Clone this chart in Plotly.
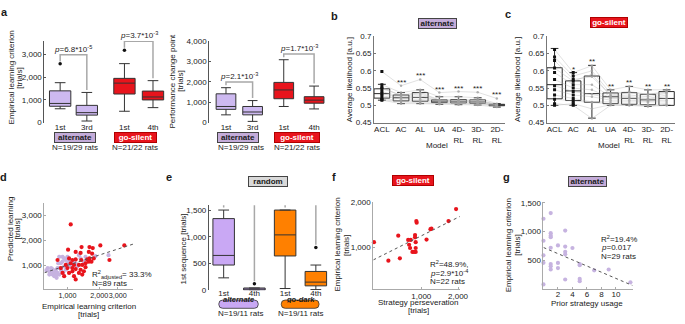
import numpy as np
import plotly.graph_objects as go

W, H = 685, 324
FONT = "Liberation Sans, Arial, Helvetica, sans-serif"
TXT = "#1a1a1a"
PURPLE_BOX = "#cdb9f0"
PURPLE_BOX_E = "#c9a8f4"
RED = "#e8141c"
ORANGE = "#ff8000"
PURPLE_DOT = "#c6b3e0"
BADGE_PURPLE = "#c4acd9"
GREY_BADGE = "#d9d9d9"

# ======================= DATA =======================
# panel a (left) - empirical learning criterion [trials]
a1_ticks = ["1st", "3rd", "1st", "4th"]
a1_q1 = [720, 330, 1260, 1000]
a1_med = [845, 440, 1740, 1130]
a1_q3 = [1400, 760, 1950, 1390]
a1_lo = [610, 70, 500, 660]
a1_hi = [1760, 1330, 2600, 1850]
a1_out = [[2590], [], [3190], []]
a1_p = ["6.8*10<sup>-5</sup>", "3.7*10<sup>-3</sup>"]

# panel a (right) - performance change point [trials]
a2_ticks = ["1st", "3rd", "1st", "4th"]
a2_q1 = [650, 380, 1170, 950]
a2_med = [790, 520, 1600, 1100]
a2_q3 = [1410, 790, 1970, 1270]
a2_lo = [380, 60, 790, 670]
a2_hi = [1710, 1080, 3080, 1790]
a2_out = [[], [], [], []]
a2_p = ["2.1*10<sup>-3</sup>", "1.7*10<sup>-3</sup>"]

# panels b / c - average likelihood per model
models = ["ACL", "AC", "AL", "UA", "4D-<br>RL", "3D-<br>RL", "2D-<br>RL"]
b_q1 = [0.521, 0.513, 0.512, 0.508, 0.507, 0.506, 0.499]
b_med = [0.534, 0.522, 0.523, 0.512, 0.512, 0.510, 0.501]
b_q3 = [0.548, 0.530, 0.537, 0.516, 0.517, 0.516, 0.503]
b_lo = [0.515, 0.505, 0.505, 0.503, 0.502, 0.501, 0.495]
b_hi = [0.561, 0.537, 0.545, 0.525, 0.525, 0.522, 0.505]
b_stars = ["", "***", "***", "***", "***", "***", "***"]
b_rats = [
    [0.598, 0.557, 0.575, 0.537, 0.540, 0.538, 0.520],
    [0.560, 0.537, 0.545, 0.525, 0.525, 0.522, 0.505],
    [0.552, 0.528, 0.533, 0.515, 0.514, 0.514, 0.502],
    [0.548, 0.530, 0.537, 0.516, 0.517, 0.516, 0.503],
    [0.540, 0.525, 0.528, 0.513, 0.513, 0.512, 0.502],
    [0.534, 0.522, 0.523, 0.512, 0.512, 0.510, 0.501],
    [0.528, 0.518, 0.518, 0.510, 0.510, 0.508, 0.500],
    [0.521, 0.513, 0.512, 0.508, 0.507, 0.506, 0.499],
    [0.517, 0.510, 0.508, 0.505, 0.505, 0.504, 0.498],
    [0.515, 0.505, 0.505, 0.503, 0.502, 0.501, 0.495],
]

c_q1 = [0.519, 0.514, 0.509, 0.505, 0.503, 0.502, 0.500]
c_med = [0.560, 0.542, 0.534, 0.525, 0.520, 0.516, 0.520]
c_q3 = [0.609, 0.571, 0.585, 0.536, 0.537, 0.532, 0.540]
c_lo = [0.500, 0.500, 0.463, 0.500, 0.500, 0.497, 0.500]
c_hi = [0.665, 0.595, 0.616, 0.545, 0.555, 0.545, 0.545]
c_stars = ["", "*", "**", "**", "**", "**", "**"]
c_rats = [
    [0.662, 0.595, 0.615, 0.545, 0.555, 0.545, 0.545],
    [0.640, 0.585, 0.600, 0.535, 0.540, 0.532, 0.540],
    [0.630, 0.575, 0.583, 0.530, 0.537, 0.530, 0.538],
    [0.608, 0.570, 0.590, 0.528, 0.530, 0.525, 0.535],
    [0.595, 0.560, 0.560, 0.525, 0.525, 0.520, 0.530],
    [0.575, 0.550, 0.545, 0.522, 0.522, 0.518, 0.525],
    [0.557, 0.540, 0.532, 0.520, 0.520, 0.516, 0.520],
    [0.545, 0.530, 0.525, 0.515, 0.515, 0.512, 0.515],
    [0.530, 0.520, 0.510, 0.510, 0.510, 0.508, 0.510],
    [0.518, 0.512, 0.508, 0.505, 0.503, 0.502, 0.505],
    [0.505, 0.500, 0.462, 0.500, 0.500, 0.497, 0.500],
    [0.500, 0.505, 0.490, 0.502, 0.500, 0.500, 0.500],
]

# panel d - predicted vs empirical learning [trials]
d_alt_x = [627, 650, 674, 700, 724, 751, 767, 778, 806, 836, 848, 866, 898, 931, 965,
           1000, 836, 898, 1036, 1074, 1114, 1154, 1240, 1332, 1431, 751, 778, 735, 806,
           931, 965, 1022, 674, 718, 872, 910, 2450, 1840, 1285, 1483, 818, 1000, 700,
           790, 1197]
d_alt_y = [792, 883, 754, 689, 624, 559, 754, 818, 689, 624, 883, 1078, 1143, 1272, 1208,
           1078, 1337, 1337, 1143, 948, 1078, 1143, 948, 1272, 1143, 663, 585, 715, 883,
           948, 818, 948, 624, 844, 792, 715, 1402, 1363, 1402, 1337, 1078, 1337, 883,
           494, 1078]
d_gs_x = [1074, 1014, 1361, 1617, 1737, 2050, 3460, 1197, 1332, 1594, 1712, 1617, 1775,
          1538, 806, 1036, 1114, 1197, 1351, 1571, 2500, 965, 1074, 1154, 1285, 1381,
          1483, 1594, 1689, 866, 1000, 1114, 1197, 1332, 1483, 898, 1036, 1114, 1285,
          1431, 931, 1154, 1197, 1381]
d_gs_y = [2634, 1623, 1726, 1726, 1687, 1791, 1791, 1532, 1493, 1532, 1467, 1272, 1272,
          1233, 1208, 1272, 1208, 1233, 1208, 1208, 1208, 1013, 1078, 1013, 1013, 1013,
          1078, 1143, 1143, 883, 883, 883, 844, 818, 922, 689, 689, 754, 689, 754, 559,
          559, 429, 624]

# panel e - 1st sequence [trials]
e_ticks = ["1st", "4th", "1st", "4th"]
e_q1 = [470, 0, 640, 80]
e_med = [650, 12, 1035, 150]
e_q3 = [1340, 40, 1500, 350]
e_lo = [230, 0, 30, 10]
e_hi = [1500, 40, 1500, 470]
e_out = [[], [120], [], [800]]
e_p = ["0.016", "2*10<sup>-3</sup>"]

# panel f - go-silent: strategy perseveration vs learning criterion
f_x = [410, 538, 648, 668, 781, 795, 820, 810, 846, 873, 900, 889, 889, 900, 900, 911,
       917, 1104, 1189, 1211, 1671, 1927]
f_y = [1088, 819, 1202, 848, 1127, 1046, 1127, 995, 937, 937, 937, 1214, 1173, 1088,
       995, 1505, 1468, 1133, 1328, 1342, 1505, 1810]

# panel g - alternate: prior strategy usage vs learning criterion
g_x = [0, 0, 0, 0, 0, 1, 1, 1, 1, 1, 1, 1, 1, 2, 2, 2, 3, 3, 3, 3, 3, 4, 5, 5, 5, 5, 7, 9, 12]
g_y = [1221, 837, 583, 452, 74, 1320, 970, 925, 900, 715, 430, 390, 335, 755, 450, 360,
       1015, 735, 645, 600, 160, 710, 430, 410, 170, 130, 320, 335, 110]

# ======================= FIGURE =======================
fig = go.Figure()


def ids(n):
    return ("x", "y") if n == 1 else (f"x{n}", f"y{n}")


def add_boxes(n, pos, q1, med, q3, lo, hi, fills, width, lc="#333333"):
    xa, ya = ids(n)
    for i, p in enumerate(pos):
        fig.add_trace(go.Box(x=[p], q1=[q1[i]], median=[med[i]], q3=[q3[i]],
                             lowerfence=[lo[i]], upperfence=[hi[i]],
                             fillcolor=fills[i], line=dict(color=lc, width=1),
                             width=width, whiskerwidth=0.5, boxpoints=False,
                             xaxis=xa, yaxis=ya, hoverinfo="skip", showlegend=False))


def add_outliers(n, pos, outs):
    xa, ya = ids(n)
    xs, ys = [], []
    for p, o in zip(pos, outs):
        for v in o:
            xs.append(p)
            ys.append(v)
    if xs:
        fig.add_trace(go.Scatter(x=xs, y=ys, mode="markers", cliponaxis=False,
                                 marker=dict(size=3.5, color="#111111"),
                                 xaxis=xa, yaxis=ya, hoverinfo="skip", showlegend=False))


annotations = []
shapes = []


def add_brackets(n, pos, hi, outs, pvals, span, top_pad, leg_pad):
    xa, ya = ids(n)
    for k in range(2):
        i, j = 2 * k, 2 * k + 1
        mi = max([hi[i]] + outs[i])
        mj = max([hi[j]] + outs[j])
        top = max(mi, mj) + top_pad * span
        fig.add_trace(go.Scatter(x=[pos[i], pos[i], pos[j], pos[j]],
                                 y=[mi + leg_pad * span, top, top, mj + leg_pad * span],
                                 mode="lines", line=dict(color="#a8a8a8", width=1.5),
                                 cliponaxis=False, xaxis=xa, yaxis=ya,
                                 hoverinfo="skip", showlegend=False))
        annotations.append(dict(x=(pos[i] + pos[j]) / 2, y=top, xref=xa, yref=ya,
                                text="<i>p</i>=" + pvals[k], showarrow=False,
                                yanchor="bottom", yshift=-1,
                                font=dict(size=8, color=TXT, family=FONT)))


# ---- panel a left ----
a1_pos = [1, 2, 3.41, 4.48]
add_boxes(1, a1_pos, a1_q1, a1_med, a1_q3, a1_lo, a1_hi,
          [PURPLE_BOX, PURPLE_BOX, RED, RED], 0.8)
add_outliers(1, a1_pos, a1_out)
add_brackets(1, a1_pos, a1_hi, a1_out, a1_p, 3600, 0.11, 0.03)

# ---- panel a right ----
a2_pos = [1, 2, 3.17, 4.31]
add_boxes(2, a2_pos, a2_q1, a2_med, a2_q3, a2_lo, a2_hi,
          [PURPLE_BOX, PURPLE_BOX, RED, RED], 0.74)
add_brackets(2, a2_pos, a2_hi, a2_out, a2_p, 4000, 0.07, 0.03)

# ---- panels b / c ----
for n, rats, q1, med, q3, lo, hi, stars, black_cols in [
        (3, b_rats, b_q1, b_med, b_q3, b_lo, b_hi, b_stars, [0]),
        (4, c_rats, c_q1, c_med, c_q3, c_lo, c_hi, c_stars, [0, 1])]:
    xa, ya = ids(n)
    mpos = list(range(len(models)))
    for r in rats:
        fig.add_trace(go.Scatter(x=mpos, y=r, mode="lines+markers",
                                 line=dict(color="rgba(175,175,175,0.55)", width=0.7),
                                 marker=dict(size=2.5, color="rgba(160,160,160,0.8)"),
                                 xaxis=xa, yaxis=ya, hoverinfo="skip", showlegend=False))
    add_boxes(n, mpos, q1, med, q3, lo, hi, ["rgba(255,255,255,0)"] * 7, 0.82, lc="#2a2a2a")
    for col in black_cols:
        fig.add_trace(go.Scatter(x=[col] * len(rats), y=[r[col] for r in rats], mode="markers",
                                 marker=dict(size=3, color="#111111", symbol="square"),
                                 xaxis=xa, yaxis=ya, hoverinfo="skip", showlegend=False))
    for m in range(len(models)):
        if stars[m]:
            top = max([hi[m]] + [r[m] for r in rats])
            annotations.append(dict(x=m, y=top, xref=xa, yref=ya, text=stars[m],
                                    showarrow=False, yanchor="bottom", yshift=-3,
                                    font=dict(size=8, color=TXT, family=FONT)))

# ---- panel d ----
d_xr = [np.log10(605), np.log10(4200)]
fig.add_trace(go.Scatter(x=d_alt_x, y=d_alt_y, mode="markers",
                         marker=dict(size=4.2, color=PURPLE_DOT),
                         xaxis="x5", yaxis="y5", hoverinfo="skip", showlegend=False))
fig.add_trace(go.Scatter(x=d_gs_x, y=d_gs_y, mode="markers",
                         marker=dict(size=4.2, color=RED),
                         xaxis="x5", yaxis="y5", hoverinfo="skip", showlegend=False))
dx_all = np.log10(np.array(d_alt_x + d_gs_x, float))
dy_all = np.array(d_alt_y + d_gs_y, float)
d_b, d_a = np.polyfit(dx_all, dy_all, 1)
fig.add_trace(go.Scatter(x=[10 ** d_xr[0], 10 ** d_xr[1]],
                         y=[d_a + d_b * d_xr[0], d_a + d_b * d_xr[1]], mode="lines",
                         line=dict(color="#555555", width=1, dash="dot"),
                         xaxis="x5", yaxis="y5", hoverinfo="skip", showlegend=False))

# ---- panel e ----
e_pos = [1, 2, 3, 4]
add_boxes(6, e_pos, e_q1, e_med, e_q3, e_lo, e_hi,
          [PURPLE_BOX_E, PURPLE_BOX_E, ORANGE, ORANGE], 0.7)
add_outliers(6, e_pos, e_out)
add_brackets(6, e_pos, e_hi, e_out, e_p, 1590, 0.143, 0.03)

# ---- panel f ----
f_xr = [np.log10(405), np.log10(2070)]
fig.add_trace(go.Scatter(x=f_x, y=f_y, mode="markers", cliponaxis=False,
                         marker=dict(size=4.2, color=RED),
                         xaxis="x7", yaxis="y7", hoverinfo="skip", showlegend=False))
f_b, f_a = np.polyfit(np.log10(f_x), np.log10(f_y), 1)
fig.add_trace(go.Scatter(x=[10 ** f_xr[0], 10 ** f_xr[1]],
                         y=[10 ** (f_a + f_b * f_xr[0]), 10 ** (f_a + f_b * f_xr[1])],
                         mode="lines", line=dict(color="#555555", width=1, dash="dot"),
                         xaxis="x7", yaxis="y7", hoverinfo="skip", showlegend=False))

# ---- panel g ----
g_xr = [0, 12.3]
fig.add_trace(go.Scatter(x=g_x, y=g_y, mode="markers", cliponaxis=False,
                         marker=dict(size=4.2, color=PURPLE_DOT),
                         xaxis="x8", yaxis="y8", hoverinfo="skip", showlegend=False))
g_b, g_a = np.polyfit(g_x, g_y, 1)
fig.add_trace(go.Scatter(x=g_xr, y=[g_a + g_b * g_xr[0], g_a + g_b * g_xr[1]],
                         mode="lines", line=dict(color="#555555", width=1, dash="dot"),
                         xaxis="x8", yaxis="y8", hoverinfo="skip", showlegend=False))


# ======================= AXES =======================
def dom_x(a, b):
    return [a / W, b / W]


def dom_y(top, bottom):
    return [1 - bottom / H, 1 - top / H]


def axis(domain, rng, tickvals, ticktext, anchor, showline=True, lc="#555555",
         ticks="inside", type_="linear", standoff=0, fsize=8):
    return dict(domain=domain, range=rng, tickvals=tickvals, ticktext=ticktext,
                anchor=anchor, type=type_, showgrid=False, zeroline=False,
                showline=showline, linecolor=lc, linewidth=1, ticks=ticks, ticklen=2,
                tickcolor=lc, tickfont=dict(size=fsize, color=TXT, family=FONT),
                tickangle=0, ticklabelstandoff=standoff, fixedrange=True)


layout_axes = {}
# a left
layout_axes["xaxis"] = axis(dom_x(45, 168), [0.41, 4.96], a1_pos, a1_ticks, "y",
                            showline=False, ticks="", standoff=-2)
layout_axes["yaxis"] = axis(dom_y(38, 122), [0, 3600], [0, 1000, 2000, 3000],
                            ["0", "1,000", "2,000", "3,000"], "x")
# a right
layout_axes["xaxis2"] = axis(dom_x(212, 335), [0.37, 4.93], a2_pos, a2_ticks, "y2",
                             showline=False, ticks="", standoff=-2)
layout_axes["yaxis2"] = axis(dom_y(38, 122), [0, 4000], [0, 1000, 2000, 3000, 4000],
                             ["0", "1,000", "2,000", "3,000", "4,000"], "x2")
# b, c
lik_ticks = [0.45, 0.5, 0.55, 0.6, 0.65, 0.7]
lik_text = ["0.45", "0.5", "0.55", "0.6", "0.65", "0.7"]
layout_axes["xaxis3"] = axis(dom_x(379, 512), [-0.41, 6.44], list(range(7)), models, "y3",
                             lc="#777777", ticks="", standoff=-1)
layout_axes["yaxis3"] = axis(dom_y(33.3, 122), [0.45, 0.7], lik_ticks, lik_text, "x3",
                             lc="#777777")
layout_axes["xaxis4"] = axis(dom_x(554, 684), [-0.42, 6.45], list(range(7)), models, "y4",
                             lc="#777777", ticks="", standoff=-1)
layout_axes["yaxis4"] = axis(dom_y(33.3, 122), [0.45, 0.7], lik_ticks, lik_text, "x4",
                             lc="#777777")
# d
layout_axes["xaxis5"] = axis(dom_x(45, 135), d_xr, [1000, 2000, 3000],
                             ["1,000", "2,000", "3,000"], "y5", lc="#aaaaaa", type_="log",
                             standoff=-1, fsize=7.2)
layout_axes["yaxis5"] = axis(dom_y(205, 293.3), [40, 3480], [1000, 2000, 3000],
                             ["1,000", "2,000", "3,000"], "x5", lc="#aaaaaa")
# e
layout_axes["xaxis6"] = axis(dom_x(211.7, 335), [0.52, 4.48], e_pos, e_ticks, "y6",
                             showline=False, ticks="", standoff=-3)
layout_axes["yaxis6"] = axis(dom_y(207, 294.3), [0, 1590], [0, 500, 1000, 1500],
                             ["0", "500", "1,000", "1,500"], "x6")
# f
layout_axes["xaxis7"] = axis(dom_x(378.3, 466), f_xr, [1000, 2000], ["1,000", "2,000"],
                             "y7", lc="#aaaaaa", type_="log", standoff=-1)
layout_axes["yaxis7"] = axis(dom_y(203.3, 293.3), [np.log10(528), np.log10(2030)],
                             [1000, 2000], ["1,000", "2,000"], "x7", lc="#aaaaaa",
                             type_="log")
# g
layout_axes["xaxis8"] = axis(dom_x(550.7, 641), g_xr, [2, 4, 6, 8, 10],
                             ["2", "4", "6", "8", "10"], "y8", lc="#aaaaaa", standoff=-2)
layout_axes["yaxis8"] = axis(dom_y(203.3, 292.8), [0, 1520], [500, 1000, 1500],
                             ["500", "1,000", "1,500"], "x8", lc="#aaaaaa")


# ======================= TEXT / BADGES =======================
def txt(xp, yp, text, size=8, angle=0, bold=False, xanchor="center", color=TXT):
    t = f"<b>{text}</b>" if bold else text
    annotations.append(dict(x=xp / W, y=1 - yp / H, xref="paper", yref="paper", text=t,
                            showarrow=False, textangle=angle, xanchor=xanchor,
                            yanchor="middle",
                            font=dict(size=size, color=color, family=FONT)))


def badge(xc, yc, text, bg, fg, w, h, border="#444444"):
    annotations.append(dict(x=xc / W, y=1 - yc / H, xref="paper", yref="paper",
                            text=f"<b>{text}</b>",
                            showarrow=False, xanchor="center", yanchor="middle",
                            bgcolor=bg, bordercolor=border, borderwidth=1, borderpad=0,
                            width=w, height=h,
                            font=dict(size=8, color=fg, family=FONT)))


def rbadge(x0, y0, x1, y1, text, bg, fg, r=4):
    def P(x, y):
        return f"{x / W:.5f},{1 - y / H:.5f}"
    path = (f"M {P(x0 + r, y0)} L {P(x1 - r, y0)} Q {P(x1, y0)} {P(x1, y0 + r)} "
            f"L {P(x1, y1 - r)} Q {P(x1, y1)} {P(x1 - r, y1)} L {P(x0 + r, y1)} "
            f"Q {P(x0, y1)} {P(x0, y1 - r)} L {P(x0, y0 + r)} Q {P(x0, y0)} {P(x0 + r, y0)} Z")
    shapes.append(dict(type="path", path=path, xref="paper", yref="paper",
                       fillcolor=bg, line=dict(color="#333333", width=0.8)))
    annotations.append(dict(x=(x0 + x1) / 2 / W, y=1 - (y0 + y1) / 2 / H, xref="paper",
                            yref="paper", text=f"<b><i>{text}</i></b>", showarrow=False,
                            borderpad=0, height=8,
                            font=dict(size=7.5, color=fg, family=FONT)))


# panel letters
txt(5, 8, "a", size=11, bold=True)
txt(339, 12, "b", size=11, bold=True)
txt(515, 10, "c", size=11, bold=True)
txt(4, 178, "d", size=11, bold=True)
txt(171, 178, "e", size=11, bold=True)
txt(338, 178, "f", size=11, bold=True)
txt(513, 178, "g", size=11, bold=True)

# panel a texts
txt(11.7, 76, "Empirical learning criterion", angle=-90)
txt(20, 76, "[trials]", angle=-90)
txt(175, 79, "Performance change point", angle=-90)
txt(183.3, 79, "[trials]", angle=-90)
badge(76, 137.5, "alternate", BADGE_PURPLE, TXT, 40, 9)
badge(137.5, 137.5, "go-silent", RED, "white", 41, 9, border="#b00000")
txt(76, 147.5, "N=19/29 rats")
txt(137, 147.5, "N=21/22 rats")
badge(241, 137.5, "alternate", BADGE_PURPLE, TXT, 40, 9)
badge(300.5, 137.5, "go-silent", RED, "white", 44, 9, border="#b00000")
txt(244, 147.5, "N=19/29 rats")
txt(301, 147.5, "N=21/22 rats")

# panels b / c texts
badge(443, 20, "alternate", BADGE_PURPLE, TXT, 37, 9)
badge(617, 18.7, "go-silent", RED, "white", 36, 9, border="#b00000")
txt(354, 78, "Average likelihood [a.u.]", angle=-90)
txt(525, 78, "Average likelihood [a.u.]", angle=-90)
txt(443, 146, "Model")
txt(617, 146, "Model")

# panel d texts
txt(10, 231.7, "Predicted learning", angle=-90)
txt(17.5, 231.7, "[trials]", angle=-90)
txt(90, 310.7, "Empirical learning criterion")
txt(90, 319, "[trials]")
txt(91.5, 278.3, "R<sup>2</sup><sub>adjusted</sub>= 33.3%", xanchor="left")
txt(91.5, 287.5, "N=89 rats", xanchor="left")

# panel e texts
txt(185, 252, "1st sequence [trials]", angle=-90)
badge(271.7, 182.8, "random", GREY_BADGE, TXT, 38, 9)
rbadge(221.7, 304.5, 261.7, 313, "alternate", PURPLE_BOX_E, TXT)
rbadge(285, 304.5, 323.3, 313, "go-dark", ORANGE, TXT)
txt(244, 318.8, "N=19/11 rats")
txt(304.5, 318.8, "N=19/11 rats")

# panel f texts
txt(342, 248, "Empirical learning criterion", angle=-90)
txt(350.5, 248, "[trials]", angle=-90)
badge(419, 182, "go-silent", RED, "white", 40, 9, border="#b00000")
txt(424, 307.3, "Strategy perseveration")
txt(424, 315.7, "[trials]")
txt(434, 267.3, "R<sup>2</sup>=48.9%,", xanchor="left")
txt(434, 276.3, "<i>p</i>=2.9*10<sup>-4</sup>", xanchor="left")
txt(434, 285.3, "N=22 rats", xanchor="left")

# panel g texts
txt(515, 248, "Empirical learning criterion", angle=-90)
txt(523.5, 248, "[trials]", angle=-90)
badge(595, 182.5, "alternate", BADGE_PURPLE, TXT, 37, 9)
txt(595, 307.7, "Prior strategy usage")
txt(606.7, 241.7, "R<sup>2</sup>=19.4%", xanchor="left")
txt(606.7, 250.7, "<i>p</i>=0.017", xanchor="left")
txt(606.7, 260, "N=29 rats", xanchor="left")

fig.update_layout(
    width=W, height=H, margin=dict(l=0, r=0, t=0, b=0),
    paper_bgcolor="white", plot_bgcolor="rgba(0,0,0,0)",
    showlegend=False, boxmode="overlay",
    font=dict(family=FONT, size=8, color=TXT),
    annotations=annotations, shapes=shapes,
    **layout_axes,
)

fig.write_html("out.html",
               config={"displayModeBar": False, "staticPlot": True},
               post_script="document.body.style.margin='0';"
                           "document.body.style.overflow='hidden';")
